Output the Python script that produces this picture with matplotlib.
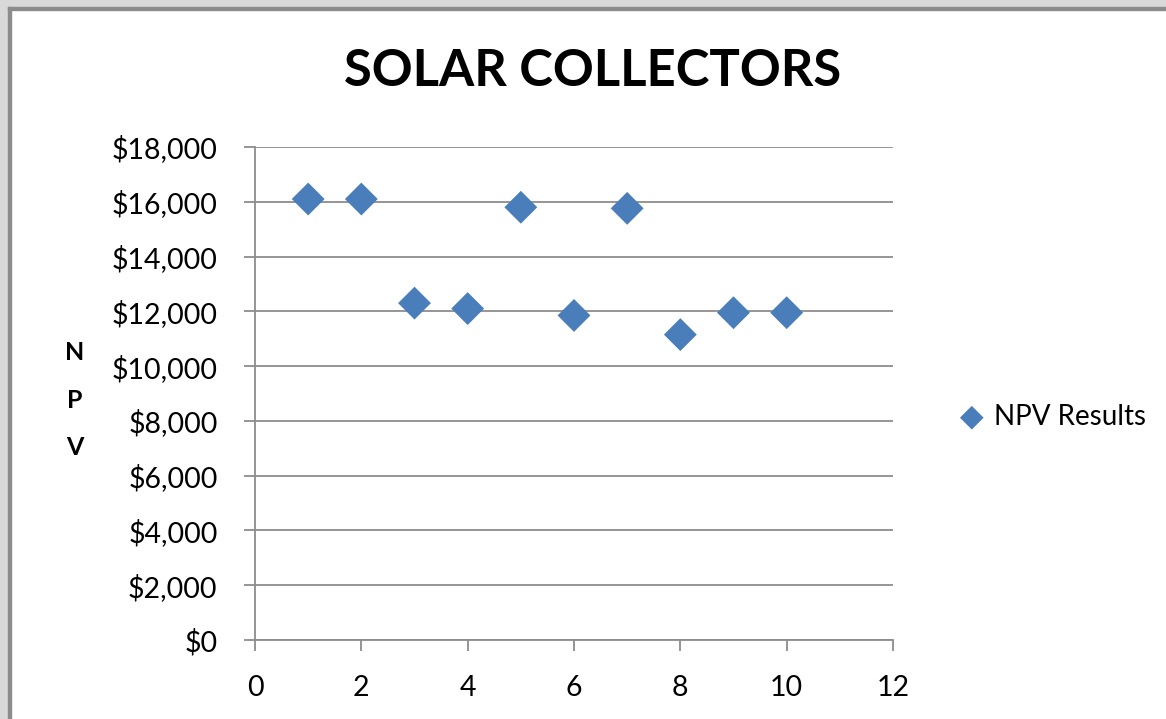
import matplotlib
matplotlib.use("Agg")
import matplotlib.pyplot as plt
from matplotlib.patches import Rectangle
from matplotlib.ticker import FuncFormatter, MultipleLocator

x_vals = [1, 2, 3, 4, 5, 6, 7, 8, 9, 10]
npv_vals = [16100, 16100, 12300, 12100, 15800, 11850, 15760, 11150, 11950, 11950]
title = "SOLAR COLLECTORS"
series_name = "NPV Results"
ylabel = "N\nP\nV"

W, H = 1166, 719
fig = plt.figure(figsize=(W / 100, H / 100), dpi=100)
fig.patch.set_facecolor("white")

# window-like frame
fig.add_artist(Rectangle((0, 0), 8 / W, 1, transform=fig.transFigure, color="#d9d9d9", zorder=0))
fig.add_artist(Rectangle((0, 1 - 7 / H), 1, 7 / H, transform=fig.transFigure, color="#d9d9d9", zorder=0))
fig.add_artist(Rectangle((8 / W, 0), 3 / W, 1 - 7 / H, transform=fig.transFigure, color="#8c8c8c", zorder=0))
fig.add_artist(Rectangle((8 / W, 1 - 10 / H), 1, 3 / H, transform=fig.transFigure, color="#8c8c8c", zorder=0))

font = "Lato"
left, right = 255 / W, 893 / W
bottom, top = 1 - 640 / H, 1 - 147 / H
ax = fig.add_axes([left, bottom, right - left, top - bottom])

ax.scatter(x_vals, npv_vals, marker="D", s=280, color="#4a7ebb",
           edgecolors="none", zorder=3, label=series_name)

ax.set_xlim(0, 12)
ax.set_ylim(0, 18000)
ax.xaxis.set_major_locator(MultipleLocator(2))
ax.yaxis.set_major_locator(MultipleLocator(2000))
ax.yaxis.set_major_formatter(FuncFormatter(lambda v, p: "${:,.0f}".format(v)))
ax.grid(axis="y", color="#8c8c8c", linewidth=1.3, zorder=1)
ax.set_axisbelow(True)
for s in ["top", "right"]:
    ax.spines[s].set_visible(False)
for s in ["left", "bottom"]:
    ax.spines[s].set_color("#8c8c8c")
    ax.spines[s].set_linewidth(1.3)
ax.tick_params(axis="both", colors="#8c8c8c", length=8, width=1.3, labelcolor="black",
               labelsize=20.5)
ax.tick_params(axis="y", pad=19)
ax.tick_params(axis="x", pad=17)
for lab in ax.get_xticklabels() + ax.get_yticklabels():
    lab.set_fontfamily(font)

fig.text(593 / W, 1 - 72 / H, title, ha="center", va="center", fontsize=36.5,
         fontweight="bold", family=font)
fig.text(75 / W, 1 - 400 / H, ylabel, ha="center", va="center", fontsize=18,
         fontweight="bold", family=font, linespacing=2.3)

leg = fig.legend(loc="center left", bbox_to_anchor=(944 / W, 1 - 417 / H), frameon=False,
                 prop={"family": font, "size": 20}, handletextpad=-0.2, markerscale=0.72,
                 borderpad=0, borderaxespad=0)

fig.savefig("out.png", dpi=100)
